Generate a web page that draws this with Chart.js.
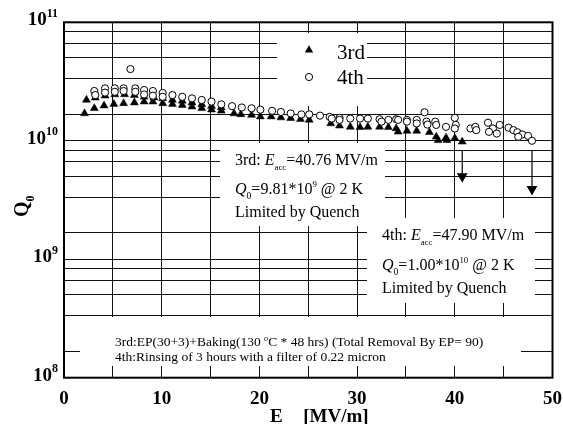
<!DOCTYPE html>
<html><head><meta charset="utf-8">
<script src="https://cdn.jsdelivr.net/npm/chart.js@4.4.1/dist/chart.umd.min.js"></script>
<style>html,body{margin:0;padding:0;background:#fff;}canvas{display:block;}</style>
</head><body>
<canvas id="c" width="563" height="424"></canvas>
<script>
// ---- axis ticks ----
const xLabelTicks = [0, 10, 20, 30, 40, 50];
const yDecades = [1e8, 1e9, 1e10, 1e11];
const yDecadeExp = ['8', '9', '10', '11'];
const yMinorSteps = [1, 2, 3, 4, 5];      // Origin-style minor grid: k/6 of the next decade
// ---- 3rd test (triangles) ----
const e3rd = [2.1,3.1,4.1,5.1,6.1,7.2,8.2,9.1,10.1,11.1,12.1,13.1,14.1,15.1,16.1,17.4,18.1,19.2,20.1,21.2,22.2,23.2,24.2,25.1,27.3,28.2,29.3,30.3,31.1,32.3,33.2,34.0,34.2,35.1,36.1,37.4,38.1,38.3,39.1,39.2,40.0,40.76,
              2.3,3.2,4.2,5.2,6.2,7.2,8.2,9.2,10.1,11.1,12.1,13.1,14.1,15.1,16.1];
const q3rd = [1.70e10,1.88e10,1.98e10,2.04e10,2.07e10,2.10e10,2.14e10,2.14e10,2.07e10,2.04e10,2.00e10,1.94e10,1.88e10,1.83e10,1.79e10,1.70e10,1.67e10,1.65e10,1.60e10,1.60e10,1.57e10,1.55e10,1.52e10,1.50e10,1.40e10,1.34e10,1.31e10,1.30e10,1.31e10,1.31e10,1.30e10,1.27e10,1.19e10,1.21e10,1.21e10,1.18e10,1.08e10,1.01e10,1.06e10,1.01e10,1.05e10,0.981e10,
              2.21e10,2.31e10,2.40e10,2.46e10,2.46e10,2.43e10,2.35e10,2.31e10,2.28e10,2.21e10,2.17e10,2.10e10,2.03e10,1.96e10,1.91e10];
// ---- 4th test (open circles) ----
const e4th = [3.1,4.2,5.2,6.1,7.3,8.2,9.1,10.1,11.1,12.1,13.1,14.1,15.1,16.1,17.2,18.2,19.2,20.1,21.3,22.2,23.2,24.3,25.1,26.2,27.2,28.2,29.3,30.3,31.1,32.3,33.2,34.0,35.1,36.1,36.9,37.1,38.0,39.1,40.0,41.6,42.1,43.4,44.6,45.5,46.0,46.4,46.9,47.5,47.9,
              3.2,4.2,5.2,6.1,7.3,8.2,9.1,10.1,6.8,27.4,28.2,32.5,34.2,35.1,36.1,37.2,38.1,40.1,40.0,42.2,43.9,43.5,44.3,46.5];
const q4th = [2.63e10,2.77e10,2.77e10,2.77e10,2.77e10,2.68e10,2.63e10,2.53e10,2.43e10,2.35e10,2.28e10,2.21e10,2.14e10,2.03e10,1.96e10,1.91e10,1.88e10,1.83e10,1.79e10,1.75e10,1.70e10,1.67e10,1.67e10,1.63e10,1.59e10,1.56e10,1.54e10,1.54e10,1.54e10,1.52e10,1.50e10,1.52e10,1.50e10,1.50e10,1.74e10,1.45e10,1.45e10,1.31e10,1.56e10,1.27e10,1.31e10,1.42e10,1.36e10,1.29e10,1.23e10,1.18e10,1.13e10,1.10e10,1.00e10,
              2.43e10,2.55e10,2.59e10,2.63e10,2.59e10,2.46e10,2.40e10,2.35e10,4.03e10,1.54e10,1.50e10,1.45e10,1.50e10,1.45e10,1.40e10,1.37e10,1.36e10,1.36e10,1.27e10,1.23e10,1.27e10,1.19e10,1.15e10,1.08e10];
// ---- quench arrows ----
const arrow3X = [40.76, 40.76];
const arrow3Q = [8.3e9, 5.0e9];
const arrow4X = [47.9, 47.9];
const arrow4Q = [8.3e9, 3.9e9];

const FONT = '"Liberation Serif","Times New Roman",serif';
const pts = (xs, ys) => xs.map((x, i) => ({x: x, y: ys[i]}));
const yGrid = [];
yDecades.forEach((d, i) => {
  yGrid.push(d);
  if (i < yDecades.length - 1) yMinorSteps.forEach(k => yGrid.push(d * 10 * k / 6));
});

function rich(ctx, x, y, parts, size, weight) {
  let cx = x;
  for (const p of parts) {
    const fs = size * (p.s || 1);
    ctx.font = (p.i ? 'italic ' : '') + (weight || 'normal') + ' ' + fs + 'px ' + FONT;
    ctx.fillText(p.t, cx, y + (p.dy || 0) * size);
    cx += ctx.measureText(p.t).width;
  }
  return cx;
}
function richWidth(ctx, parts, size, weight) {
  let w = 0;
  for (const p of parts) {
    const fs = size * (p.s || 1);
    ctx.font = (p.i ? 'italic ' : '') + (weight || 'normal') + ' ' + fs + 'px ' + FONT;
    w += ctx.measureText(p.t).width;
  }
  return w;
}

const boxes = [
  [277, 33, 367, 106],   // legend
  [220, 143, 385, 226],  // 3rd note
  [367, 218, 535, 303],  // 4th note
  [80, 317, 521, 366]    // bottom note
];

const decor = {
  id: 'decor',
  beforeDatasetsDraw(chart) {
    const ctx = chart.ctx;
    ctx.save();
    ctx.fillStyle = '#fff';
    boxes.forEach(b => ctx.fillRect(b[0], b[1], b[2] - b[0], b[3] - b[1]));
    ctx.restore();
  },
  afterDatasetsDraw(chart) {
    const ctx = chart.ctx, a = chart.chartArea;
    const xs = chart.scales.x, ys = chart.scales.y;
    ctx.save();
    ctx.fillStyle = '#000'; ctx.strokeStyle = '#000';
    // frame
    ctx.lineWidth = 2;
    ctx.strokeRect(a.left, a.top, a.right - a.left, a.bottom - a.top);
    // x tick labels
    ctx.textBaseline = 'alphabetic';
    ctx.font = 'bold 19px ' + FONT;
    ctx.textAlign = 'center';
    xLabelTicks.forEach(v => ctx.fillText(String(v), xs.getPixelForValue(v), 404));
    ctx.textAlign = 'left';
    // y tick labels
    yDecades.forEach((d, i) => {
      const parts = [{t: '10'}, {t: yDecadeExp[i], s: 0.63, dy: -0.45}];
      const w = richWidth(ctx, parts, 19, 'bold');
      rich(ctx, 58 - w, ys.getPixelForValue(d) + 3, parts, 19, 'bold');
    });
    // x title
    rich(ctx, 270, 422, [{t: 'E'}, {t: 'acc', s: 0.6, dy: 0.35}, {t: ' [MV/m]'}], 19, 'bold');
    // y title (rotated)
    ctx.save();
    ctx.translate(28, 217);
    ctx.rotate(-Math.PI / 2);
    rich(ctx, 0, 0, [{t: 'Q'}, {t: '0', s: 0.6, dy: 0.3}], 20, 'bold');
    ctx.restore();
    // legend
    ctx.beginPath();
    const lt = {x: 309, y: 50}, r = 4.8;
    ctx.moveTo(lt.x, lt.y - r);
    ctx.lineTo(lt.x + r * 0.866, lt.y + r * 0.5);
    ctx.lineTo(lt.x - r * 0.866, lt.y + r * 0.5);
    ctx.closePath(); ctx.fill();
    ctx.beginPath(); ctx.lineWidth = 1; ctx.fillStyle = '#fff';
    ctx.arc(309, 77, 3.6, 0, Math.PI * 2); ctx.fill(); ctx.stroke();
    ctx.fillStyle = '#000';
    ctx.font = '21px ' + FONT;
    ctx.fillText('3rd', 337, 58.5);
    ctx.fillText('4th', 337, 84);
    // notes
    const S = 16;
    rich(ctx, 235, 165, [{t: '3rd: '}, {t: 'E', i: 1}, {t: 'acc', s: 0.55, dy: 0.3}, {t: '=40.76 MV/m'}], S);
    rich(ctx, 235, 194, [{t: 'Q', i: 1}, {t: '0', s: 0.6, dy: 0.3}, {t: '=9.81*10'}, {t: '9', s: 0.55, dy: -0.45}, {t: ' @ 2 K'}], S);
    rich(ctx, 235, 217, [{t: 'Limited by Quench'}], S);
    rich(ctx, 382, 240, [{t: '4th: '}, {t: 'E', i: 1}, {t: 'acc', s: 0.55, dy: 0.3}, {t: '=47.90 MV/m'}], S);
    rich(ctx, 382, 270, [{t: 'Q', i: 1}, {t: '0', s: 0.6, dy: 0.3}, {t: '=1.00*10'}, {t: '10', s: 0.55, dy: -0.45}, {t: ' @ 2 K'}], S);
    rich(ctx, 382, 293, [{t: 'Limited by Quench'}], S);
    const B = 13.5;
    rich(ctx, 115, 346, [{t: '3rd:EP(30+3)+Baking(130 '}, {t: 'o', s: 0.6, dy: -0.4}, {t: 'C * 48 hrs) (Total Removal By EP= 90)'}], B);
    rich(ctx, 115, 361, [{t: '4th:Rinsing of 3 hours with a filter of 0.22 micron'}], B);
    ctx.restore();
  }
};

new Chart(document.getElementById('c'), {
  type: 'scatter',
  data: {
    datasets: [
      {label: '3rd', data: pts(e3rd, q3rd), pointStyle: 'triangle', pointRadius: 4.6, borderWidth: 0.5,
       backgroundColor: '#000', borderColor: '#000', order: 2},
      {label: '4th', data: pts(e4th, q4th), pointStyle: 'circle', pointRadius: 3.6, borderWidth: 1,
       backgroundColor: '#fff', borderColor: '#000', order: 1},
      {label: 'q3', data: pts(arrow3X, arrow3Q), showLine: true, borderColor: '#000', borderWidth: 1.2,
       backgroundColor: '#000', pointStyle: 'triangle', rotation: 180, pointRadius: [0, 5], order: 3},
      {label: 'q4', data: pts(arrow4X, arrow4Q), showLine: true, borderColor: '#000', borderWidth: 1.2,
       backgroundColor: '#000', pointStyle: 'triangle', rotation: 180, pointRadius: [0, 5], order: 3}
    ]
  },
  options: {
    responsive: false, animation: false, devicePixelRatio: 1, events: [],
    layout: {padding: {left: 64, right: 10.5, top: 22.3, bottom: 46.3}},
    plugins: {legend: {display: false}, tooltip: {enabled: false}},
    scales: {
      x: {type: 'linear', min: 0, max: 50,
          ticks: {stepSize: 5, display: false},
          grid: {color: '#111', lineWidth: 1, drawTicks: false},
          border: {display: false}},
      y: {type: 'logarithmic', min: 1e8, max: 1e11,
          afterBuildTicks: s => { s.ticks = yGrid.map(v => ({value: v})); },
          ticks: {display: false},
          grid: {color: '#111', lineWidth: 1, drawTicks: false},
          border: {display: false}}
    }
  },
  plugins: [decor]
});
</script>
</body></html>
